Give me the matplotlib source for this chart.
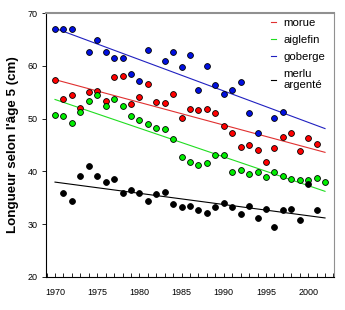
import numpy as np
import matplotlib
matplotlib.use("Agg")
import matplotlib.pyplot as plt
from matplotlib.ticker import MultipleLocator

plt.rcParams["font.family"] = ["Liberation Sans", "DejaVu Sans"]

# Longueur selon l'age 5 (cm), par annee
years_cod = list(range(1970, 2002))
cod = [57.3, 53.7, 54.5, 52.1, 55.0, 55.3, 53.3, 57.8, 58.1, 52.7,
       54.0, 56.6, 53.2, 53.0, 54.6, 50.2, 51.8, 51.7, 51.9, 51.1,
       48.6, 47.3, 44.6, 45.0, 44.1, 41.7, 44.4, 46.5, 47.3, 43.9,
       46.3, 45.2]

years_haddock = list(range(1970, 2003))
haddock = [50.7, 50.4, 49.1, 51.3, 53.4, 54.5, 52.3, 53.8, 52.4, 50.5,
           49.7, 49.0, 48.2, 48.0, 46.1, 42.7, 41.8, 41.2, 41.6, 43.2,
           43.1, 39.9, 40.3, 39.5, 39.8, 39.0, 39.9, 39.1, 38.5, 38.4,
           38.4, 38.7, 38.0]

years_pollock = [1970, 1971, 1972, 1974, 1975, 1976, 1977, 1978, 1979, 1980,
                 1981, 1983, 1984, 1985, 1986, 1987, 1988, 1989, 1990, 1991,
                 1992, 1993, 1994, 1996, 1997]
pollock = [67.0, 67.0, 67.0, 62.7, 64.9, 62.7, 61.4, 61.5, 58.4, 57.1,
           63.0, 61.0, 62.7, 59.8, 62.0, 55.5, 60.0, 56.4, 54.7, 55.4,
           57.0, 51.1, 47.3, 50.2, 51.3]

years_hake = list(range(1971, 2002))
hake = [36.0, 34.3, 39.2, 41.0, 39.2, 37.9, 38.5, 36.0, 36.5, 36.0,
        34.3, 35.7, 36.1, 33.8, 33.2, 33.4, 32.7, 32.2, 33.2, 34.0,
        33.3, 31.9, 33.4, 31.1, 32.9, 29.4, 32.7, 32.9, 30.8, 37.6,
        32.7]

series = [
    ("morue", years_cod, cod, "#ff0000", "#e03030"),
    ("aiglefin", years_haddock, haddock, "#00ee00", "#20dd20"),
    ("goberge", years_pollock, pollock, "#0010e0", "#2020c0"),
    ("merlu\nargenté", years_hake, hake, "#000000", "#000000"),
]

fig = plt.figure(figsize=(3.45, 3.10), dpi=100)
ax = fig.add_axes([0.1333, 0.1065, 0.8347, 0.8515])

# droites de regression lineaire
x_fit = np.array([1970, 2002])
for label, yrs, vals, face, line in series:
    slope, icpt = np.polyfit(yrs, vals, 1)
    ax.plot(x_fit, slope * x_fit + icpt, color=line, lw=0.8, label=label, zorder=2)
    ax.plot(yrs, vals, "o", ms=4.2, mfc=face, mec="black", mew=0.6, zorder=3)

ax.set_xlim(1968.93, 2003.06)
ax.set_ylim(20, 70)
ax.xaxis.set_major_locator(MultipleLocator(5))
ax.xaxis.set_minor_locator(MultipleLocator(1))
ax.yaxis.set_major_locator(MultipleLocator(10))
ax.tick_params(axis="x", which="both", direction="in", length=3, width=0.6,
               pad=8, labelsize=6.5)
ax.tick_params(axis="y", which="major", direction="out", length=3, width=0.6,
               pad=3, labelsize=6.5)

for s in ("left", "bottom"):
    ax.spines[s].set_color("black")
    ax.spines[s].set_linewidth(0.8)
ax.spines["top"].set_color("#909090")
ax.spines["top"].set_linewidth(1.5)
ax.spines["right"].set_color("#909090")
ax.spines["right"].set_linewidth(0.8)

ax.set_ylabel("Longueur selon l'âge 5 (cm)", fontsize=9.6, fontweight="bold",
              labelpad=6)

ax.legend(loc="upper right", frameon=False, fontsize=8.2,
          handlelength=0.45, handletextpad=0.6, labelspacing=0.62,
          borderaxespad=0.0, bbox_to_anchor=(0.985, 1.0))

fig.savefig("out.png", dpi=100)
